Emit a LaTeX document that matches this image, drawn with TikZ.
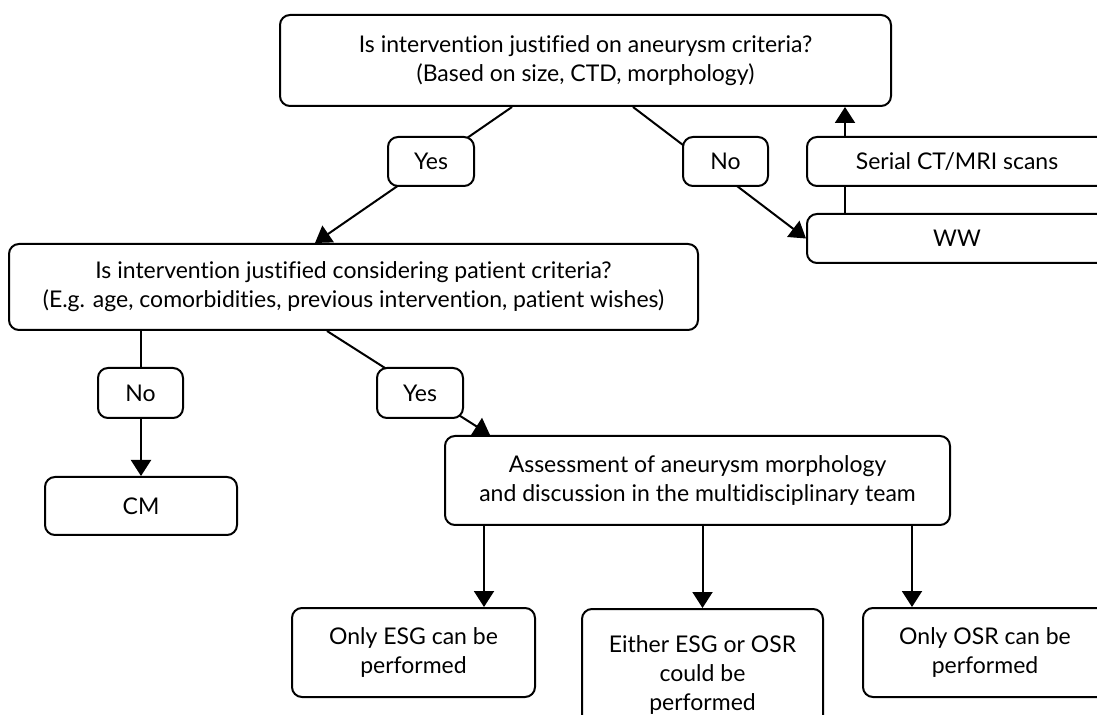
\documentclass[tikz,border=0pt]{standalone}
\usepackage{fontspec}
\setmainfont{Lato}[Ligatures=NoCommon]
\usetikzlibrary{arrows.meta}
\tikzset{
  box/.style={draw,line width=1pt,rounded corners=5pt,align=center,inner sep=0pt,
    font=\fontsize{11.5}{14.5}\selectfont},
  lbl/.style={box,fill=white},
  arr/.style={line width=1pt,-{Triangle[width=10pt,length=8pt]}}
}
\begin{document}
\begin{tikzpicture}[x=0.5pt,y=-0.5pt]
\useasboundingbox (0,0) rectangle (1097,715);
\clip (0,0) rectangle (1097,715);
% boxes
\node[box,minimum width=305.5pt,minimum height=45.5pt] (q1) at (585.5,60.5) {Is intervention justified on aneurysm criteria?\\(Based on size, CTD, morphology)};
\node[box,minimum width=150pt,minimum height=24.5pt] (scan) at (957,161.5) {Serial CT/MRI scans};
\node[box,minimum width=150pt,minimum height=24.5pt] (ww) at (957,238.5) {WW};
\node[box,minimum width=344.5pt,minimum height=43pt] (q2) at (353.5,287) {Is intervention justified considering patient criteria?\\(E.g. age, comorbidities, previous intervention, patient wishes)};
\node[box,minimum width=96pt,minimum height=29pt] (cm) at (141,506) {CM};
\node[box,minimum width=252.5pt,minimum height=44.5pt] (q3) at (697.5,480.5) {Assessment of aneurysm morphology\\and discussion in the multidisciplinary team};
\node[box,minimum width=121.5pt,minimum height=44.5pt] (esg) at (413.5,652.5) {Only ESG can be\\performed};
\node[box,minimum width=120.5pt,minimum height=66pt] (both) at (702.5,675) {Either ESG or OSR\\could be\\performed};
\node[box,minimum width=122pt,minimum height=44.5pt] (osr) at (985,652.5) {Only OSR can be\\performed};
% connectors
\draw[arr] ([xshift=-36.75pt]q1.south) -- ([xshift=-19.25pt]q2.north);
\draw[arr] ([xshift=23.75pt]q1.south) -- (ww.west);
\draw[line width=1pt] ([xshift=-56pt]ww.north) -- ([xshift=-56pt]scan.south);
\coordinate (up) at ([xshift=-56pt]scan.north);
\draw[arr] (up) -- (up |- q1.south);
\draw[arr] ([xshift=-106.25pt]q2.south) -- (cm.north);
\draw[arr] ([xshift=-13.25pt]q2.south) -- ([xshift=-103.75pt]q3.north);
\draw[arr] ([xshift=-106.75pt]q3.south) coordinate (d1) -- (d1 |- esg.north);
\draw[arr] (q3.south -| both.north) -- (both.north);
\draw[arr] ([xshift=107.25pt]q3.south) coordinate (d3) -- (d3 |- osr.north);
% labels
\node[lbl,minimum width=43pt,minimum height=24.5pt] (yes1) at (431,161.5) {Yes};
\node[lbl,minimum width=42.5pt,minimum height=24.5pt] (no1) at (725.5,161.5) {No};
\node[lbl,minimum width=42.5pt,minimum height=25pt] (no2) at (140.5,393) {No};
\node[lbl,minimum width=43pt,minimum height=25pt] (yes2) at (420,393) {Yes};
\end{tikzpicture}
\end{document}
